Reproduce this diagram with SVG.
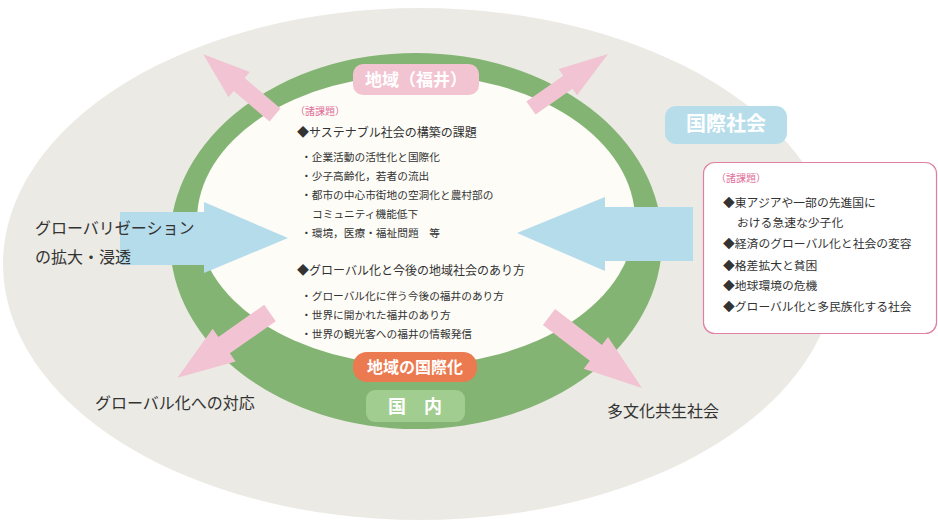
<svg xmlns="http://www.w3.org/2000/svg" width="938" height="522" viewBox="0 0 938 522">
<style>
text{font-family:"Noto Sans CJK JP","Noto Sans",sans-serif;fill:#333;}
.lbl{fill:#fff;font-weight:bold;text-anchor:middle;}
.h{font-size:12px;}
.b{font-size:10.7px;}
.r{font-size:11.8px;}
.pk{fill:#E0709A;font-size:10px;}
.big{font-size:16px;}
.pa{fill:#F2C4D3;}
.ba{fill:#B5DCEA;}
</style>
<rect width="938" height="522" fill="#fff"/>
<g id="outer">
<ellipse cx="420" cy="264" rx="417" ry="256" fill="#EBEAE4"/>
</g>
<g id="ring">
<ellipse cx="416" cy="241" rx="246" ry="188" fill="#83B473"/>
<ellipse cx="416" cy="220" rx="219" ry="145" fill="#FDFCF7"/>
</g>
<g id="connectors">
<polygon class="pa" points="0,-8.5 47,-8.5 47,-16.5 94,0 47,16.5 47,8.5 0,8.5" transform="translate(275,115) rotate(220.3)"/>
<polygon class="pa" points="0,-8 45,-8 45,-16 94,0 45,16 45,8 0,8" transform="translate(531,108) rotate(-35)"/>
<polygon class="pa" points="0,-10 56,-10 56,-20 113,0 56,20 56,10 0,10" transform="translate(270,313) rotate(145)"/>
<polygon class="pa" points="0,-10 59,-10 59,-20 117,0 59,20 59,10 0,10" transform="translate(549,317) rotate(37.4)"/>
<polygon class="ba" points="120,212 204,212 204,202 288,238 204,273 204,265 120,265"/>
<polygon class="ba" points="693,207 605,207 605,197 517,233 605,271 605,261 693,261"/>
</g>
<g id="fukui">
<rect x="353" y="64" width="126" height="31" rx="10" fill="#F2C3D1"/>
<text class="lbl" x="416" y="86" font-size="17">地域（福井）</text>
</g>
<g id="kokusai">
<rect x="665" y="106" width="122" height="38" rx="11" fill="#B7DDEA"/>
<text class="lbl" x="726" y="131" font-size="20">国際社会</text>
</g>
<g id="kokusaika">
<rect x="353" y="352" width="124" height="30" rx="14" fill="#EC7A50"/>
<text class="lbl" x="415" y="373" font-size="16">地域の国際化</text>
</g>
<g id="kokunai">
<rect x="366" y="390" width="99" height="32" rx="9" fill="#A2CD91"/>
<text class="lbl" x="415" y="413" font-size="18">国　内</text>
</g>
<g id="issues">
<text class="pk" x="295" y="115">（諸課題）</text>
<text class="h" x="297" y="137">◆サステナブル社会の構築の課題</text>
<text class="b" x="301" y="161">・企業活動の活性化と国際化</text>
<text class="b" x="301" y="180">・少子高齢化，若者の流出</text>
<text class="b" x="301" y="199">・都市の中心市街地の空洞化と農村部の</text>
<text class="b" x="312" y="218">コミュニティ機能低下</text>
<text class="b" x="301" y="237">・環境，医療・福祉問題　等</text>
<text class="h" x="297" y="275">◆グローバル化と今後の地域社会のあり方</text>
<text class="b" x="301" y="300">・グローバル化に伴う今後の福井のあり方</text>
<text class="b" x="301" y="319">・世界に開かれた福井のあり方</text>
<text class="b" x="301" y="338">・世界の観光客への福井の情報発信</text>
</g>
<g id="world-issues">
<rect x="703.5" y="162.5" width="233" height="171" rx="11" fill="#fff" stroke="#E07FA3" stroke-width="1.2"/>
<text class="pk" x="716" y="182">（諸課題）</text>
<text class="r" x="723" y="207">◆東アジアや一部の先進国に</text>
<text class="r" x="737" y="227">おける急速な少子化</text>
<text class="r" x="723" y="248">◆経済のグローバル化と社会の変容</text>
<text class="r" x="723" y="270">◆格差拡大と貧困</text>
<text class="r" x="723" y="290">◆地球環境の危機</text>
<text class="r" x="723" y="311">◆グローバル化と多民族化する社会</text>
</g>
<g id="globalization">
<text class="big" x="35" y="234">グローバリゼーション</text>
<text class="big" x="35" y="263">の拡大・浸透</text>
</g>
<g id="response">
<text class="big" x="95" y="409">グローバル化への対応</text>
</g>
<g id="multicultural">
<text class="big" x="607" y="417">多文化共生社会</text>
</g>
</svg>
